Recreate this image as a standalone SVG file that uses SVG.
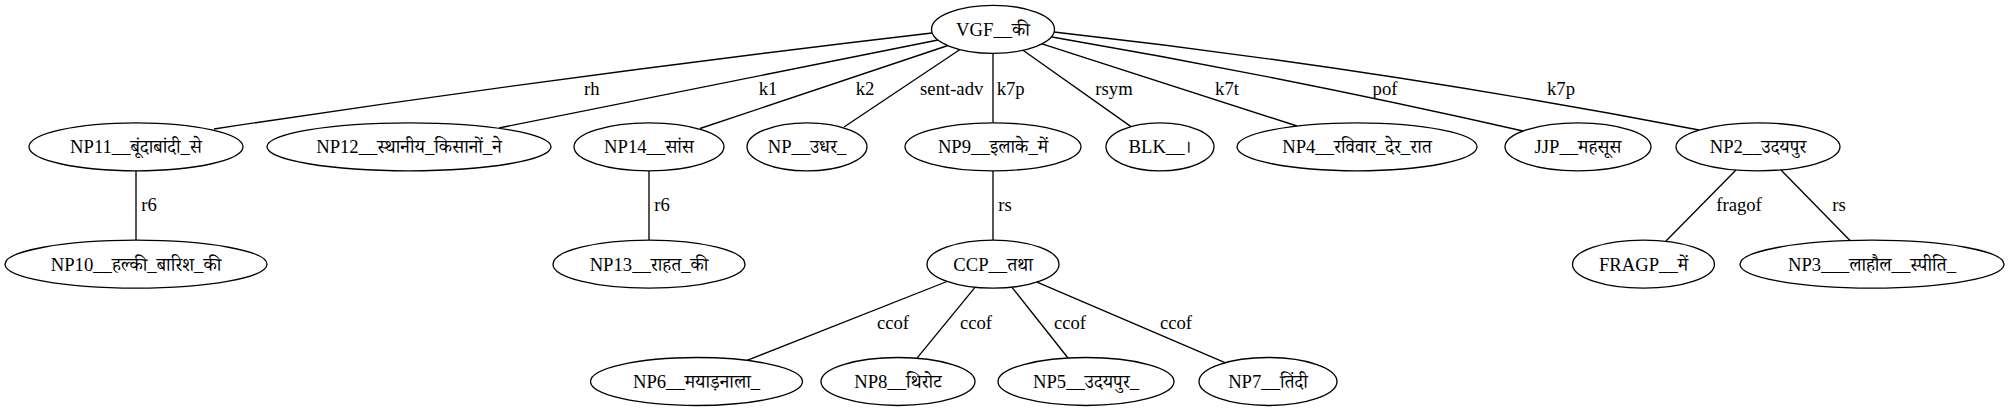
<svg xmlns="http://www.w3.org/2000/svg" width="2011" height="411" viewBox="0 0 2011 411">
<style>
  .edge { fill: none; stroke: #000; stroke-width: 1.33; }
  .node ellipse { fill: #fff; stroke: #000; stroke-width: 1.33; }
  text { font-family: "Liberation Serif", "Noto Serif Devanagari", "Noto Sans Devanagari", "Lohit Devanagari", serif; font-size: 18.67px; fill: #000; text-anchor: middle; }
</style>
<rect x="0" y="0" width="2011" height="411" fill="#fff"/>
<g id="edges">
  <path class="edge" d="M214,129 Q573,74.8 932,33"/>
  <text x="591.7" y="94.5">rh</text>
  <path class="edge" d="M499,128 L938,40"/>
  <text x="768" y="94.5">k1</text>
  <path class="edge" d="M700,128.5 L948,45.5"/>
  <text x="865" y="94.5">k2</text>
  <path class="edge" d="M844,127 L960,49.5"/>
  <text x="951.7" y="94.5">sent-adv</text>
  <path class="edge" d="M993,53.3 L993,122.8"/>
  <text x="1010.7" y="94.5">k7p</text>
  <path class="edge" d="M1023,50.2 L1131,126.6"/>
  <text x="1114" y="94.5">rsym</text>
  <path class="edge" d="M1042,43.8 L1297,126"/>
  <text x="1227" y="94.5">k7t</text>
  <path class="edge" d="M1052,37 Q1287.5,77.5 1523,131"/>
  <text x="1385" y="94.5">pof</text>
  <path class="edge" d="M1054,32 Q1375.5,67.9 1699,130"/>
  <text x="1561" y="94.5">k7p</text>
  <path class="edge" d="M136,170.8 L136,240.2"/>
  <text x="149" y="210.5">r6</text>
  <path class="edge" d="M649,170.8 L649,240.2"/>
  <text x="662" y="210.5">r6</text>
  <path class="edge" d="M993,170.8 L993,240.2"/>
  <text x="1005" y="210.5">rs</text>
  <path class="edge" d="M1736,170 L1666,241"/>
  <text x="1739" y="210.5">fragof</text>
  <path class="edge" d="M1781,170 L1850,240.5"/>
  <text x="1839" y="210.5">rs</text>
  <path class="edge" d="M947,281.5 L747,360.4"/>
  <text x="893" y="329">ccof</text>
  <path class="edge" d="M975,287.3 L917,358.2"/>
  <text x="976" y="329">ccof</text>
  <path class="edge" d="M1012,287.3 L1068,358"/>
  <text x="1070" y="329">ccof</text>
  <path class="edge" d="M1037,282.1 L1225,362.7"/>
  <text x="1176" y="329">ccof</text>
</g>
<g id="VGF" class="node"><ellipse cx="993" cy="29.3" rx="61.5" ry="24"/><text x="993" y="35.5">VGF__की</text></g>
<g id="NP11" class="node"><ellipse cx="136" cy="146.8" rx="107" ry="24"/><text x="136" y="153">NP11__बूंदाबांदी_से</text></g>
<g id="NP12" class="node"><ellipse cx="409" cy="146.8" rx="142" ry="24"/><text x="409" y="153">NP12__स्थानीय_किसानों_ने</text></g>
<g id="NP14" class="node"><ellipse cx="649" cy="146.8" rx="75" ry="24"/><text x="649" y="153">NP14__सांस</text></g>
<g id="NP" class="node"><ellipse cx="807" cy="146.8" rx="60" ry="24"/><text x="807" y="153">NP__उधर_</text></g>
<g id="NP9" class="node"><ellipse cx="993" cy="146.8" rx="88" ry="24"/><text x="993" y="153">NP9__इलाके_में</text></g>
<g id="BLK" class="node"><ellipse cx="1160" cy="146.8" rx="54" ry="24"/><text x="1160" y="153">BLK__।</text></g>
<g id="NP4" class="node"><ellipse cx="1357" cy="146.8" rx="120" ry="24"/><text x="1357" y="153">NP4__रविवार_देर_रात</text></g>
<g id="JJP" class="node"><ellipse cx="1578" cy="146.8" rx="73" ry="24"/><text x="1578" y="153">JJP__महसूस</text></g>
<g id="NP2" class="node"><ellipse cx="1758" cy="146.8" rx="82" ry="24"/><text x="1758" y="153">NP2__उदयपुर</text></g>
<g id="NP10" class="node"><ellipse cx="136" cy="264.2" rx="131" ry="24"/><text x="136" y="270.5">NP10__हल्की_बारिश_की</text></g>
<g id="NP13" class="node"><ellipse cx="649" cy="264.2" rx="96" ry="24"/><text x="649" y="270.5">NP13__राहत_की</text></g>
<g id="CCP" class="node"><ellipse cx="993" cy="264.2" rx="66" ry="24"/><text x="993" y="270.5">CCP__तथा</text></g>
<g id="FRAGP" class="node"><ellipse cx="1643.5" cy="264.2" rx="71" ry="24"/><text x="1643.5" y="270.5">FRAGP__में</text></g>
<g id="NP3" class="node"><ellipse cx="1872" cy="264.2" rx="132" ry="24"/><text x="1872" y="270.5">NP3___लाहौल__स्पीति_</text></g>
<g id="NP6" class="node"><ellipse cx="696.5" cy="381.5" rx="106" ry="24"/><text x="696.5" y="387.8">NP6__मयाड़नाला_</text></g>
<g id="NP8" class="node"><ellipse cx="898" cy="381.5" rx="77" ry="24"/><text x="898" y="387.8">NP8__थिरोट</text></g>
<g id="NP5" class="node"><ellipse cx="1086" cy="381.5" rx="88" ry="24"/><text x="1086" y="387.8">NP5__उदयपुर_</text></g>
<g id="NP7" class="node"><ellipse cx="1268" cy="381.5" rx="69" ry="24"/><text x="1268" y="387.8">NP7__तिंदी</text></g>
</svg>
